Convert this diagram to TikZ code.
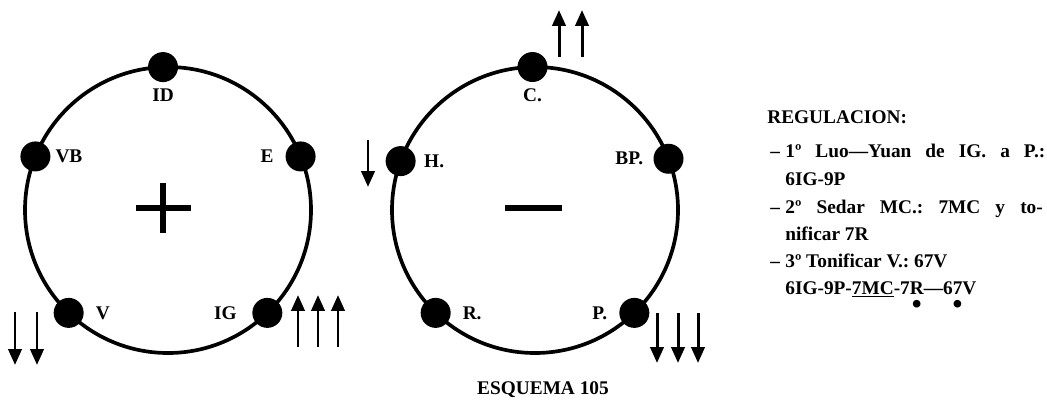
\documentclass[tikz,border=0pt]{standalone}
\usepackage{fontspec}
\setmainfont{Liberation Serif}
\usetikzlibrary{arrows.meta,positioning}

% dot set under one character of the formula
\newcommand{\tonpt}[1]{\ooalign{#1\cr\hidewidth\raisebox{-11pt}[0pt][0pt]{\fontsize{16}{16}\selectfont\textbullet}\hidewidth\cr}}

\begin{document}
\frenchspacing
\begin{tikzpicture}[
  x=0.02cm,
  y=0.02cm,
  every node/.style={font=\fontsize{11}{13}\selectfont\bfseries},
  ring/.style={line width=2.1pt},
  punto/.style={circle, fill=black, inner sep=0pt, minimum size=0.6cm},
  lab/.style={inner sep=1.5pt},
  flecha/.style={line width=1.7pt, -{Triangle[length=9pt, width=7.5pt]}},
  signo/.style={line width=3pt},
  linea/.style={anchor=base west, inner sep=0pt}
]
  % ---- common bounding box ----
  \path (0,0) rectangle (1047,410);

  % ---- left circle, the + side ----
  \begin{scope}[shift={(168,200)}]
    \draw[ring] (0,0) circle[radius=143];
    \node[punto] (id) at (92:143)  {};
    \node[punto] (vb) at (158:143) {};
    \node[punto] (e)  at (22:143)  {};
    \node[punto] (v)  at (226:143) {};
    \node[punto] (ig) at (314:143) {};
    \draw[signo] (-32,2) -- (23,2);
    \draw[signo] (-5,27) -- (-5,-23);
  \end{scope}
  \node[lab, below=2pt of id] (id-l) {ID};
  \node[lab, right=1pt of vb] (vb-l) {VB};
  \node[lab, left=5pt of e]   (e-l)  {E};
  \node[lab, right=5pt of v]  (v-l)  {V};
  \node[lab, left=7pt of ig]  (ig-l) {IG};

  % ---- right circle, the - side ----
  \begin{scope}[shift={(535,200)}]
    \draw[ring] (0,0) circle[radius=143];
    \node[punto] (c)  at (91:143)  {};
    \node[punto] (h)  at (160:143) {};
    \node[punto] (bp) at (21:143)  {};
    \node[punto] (r)  at (226:143) {};
    \node[punto] (p)  at (314:143) {};
    \draw[signo] (-30,2) -- (27,2);
  \end{scope}
  \node[lab, below=2pt of c]  (c-l)  {C.};
  \node[lab, right=3pt of h]  (h-l)  {H.};
  \node[lab, left=4pt of bp]  (bp-l) {BP.};
  \node[lab, right=5pt of r]  (r-l)  {R.};
  \node[lab, left=5pt of p]   (p-l)  {P.};

  % ---- arrows ----
  \foreach \x in {15,37}       \draw[flecha] (\x,98)  -- (\x,45);
  \foreach \x in {298,318,338} \draw[flecha] (\x,63)  -- (\x,115);
  \foreach \x in {559,582}     \draw[flecha] (\x,353) -- (\x,400);
  \draw[flecha] (368,270) -- (368,223);
  \foreach \x in {657,678,698} \draw[flecha] (\x,97)  -- (\x,47);

  \node (titulo) at (543,20) {ESQUEMA 105};

  % ---- regulation text ----
  \node[linea] (reg) at (767,287) {REGULACION:};
  \node[linea] (g1) at (770,253) {--};
  \node[linea] (l1) at (785,253) {\makebox[5.2cm][s]{1º Luo—Yuan de IG. a P.:}};
  \node[linea] (l2) at (785,225) {6IG-9P};
  \node[linea] (g2) at (770,197) {--};
  \node[linea] (l3) at (785,197) {\makebox[5.15cm][s]{2º Sedar MC.: 7MC y to-}};
  \node[linea] (l4) at (785,170) {nificar 7R};
  \node[linea] (g3) at (770,143) {--};
  \node[linea] (l5) at (785,143) {3º Tonificar V.: 67V};
  \node[linea] (l6) at (785,116) {6IG-9P-\underline{7MC}-7\tonpt{R}—6\tonpt{7}V};
\end{tikzpicture}
\end{document}
